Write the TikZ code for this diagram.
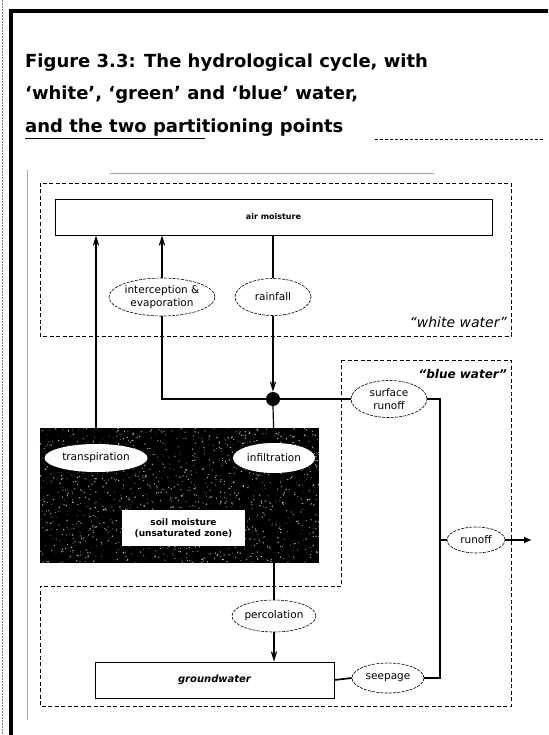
\documentclass[tikz,border=0pt]{standalone}
\usepackage{fontspec}
\setmainfont{DejaVu Sans}
\usetikzlibrary{arrows.meta, shapes.geometric, positioning}

\begin{document}
\begin{tikzpicture}[
            x=1pt, y=-1pt,
            flowLabel/.style={ellipse, draw, fill=white, line width=0.6pt, dash pattern=on 3pt off 1.2pt,
                inner sep=0pt, align=center, font=\fontsize{10.5}{12.5}\selectfont},
            soilLabel/.style={ellipse, fill=white, inner sep=0pt, font=\fontsize{10.5}{12.5}\selectfont},
            store/.style={rectangle, draw, fill=white, line width=0.8pt, inner sep=0pt},
            zone/.style={line width=0.8pt, dash pattern=on 4pt off 2.5pt},
            flow/.style={line width=1.2pt},
            mainFlow/.style={line width=1.7pt},
            flowArrow/.style={flow, -{Straight Barb[length=8pt,width=5pt]}},
            titleText/.style={anchor=base west, inner sep=0pt, font=\bfseries\fontsize{18}{21}\selectfont}
        ]
        \useasboundingbox (0,0) rectangle (548,735);

        % page frame and scan edges
        \draw[gray, line width=0.6pt, dash pattern=on 2pt off 1pt] (2,0) -- (2,735);
        \draw[line width=3.5pt] (11,735) -- (11,11) -- (548,11);
        \draw[gray!70, line width=0.6pt] (27,170) -- (27,720);
        \draw[gray!80, line width=0.6pt] (110,173) -- (434,173);

        \node[titleText] (titleOne) at (25,68) {Figure 3.3: The hydrological cycle, with};
        \node[titleText] (titleTwo) at (25,100) {`white', `green' and `blue' water,};
        \node[titleText] (titleThree) at (25,133) {and the two partitioning points};
        \draw[line width=1pt] (25,139) -- (205,139);
        \draw[line width=0.8pt, densely dashed] (375,139) -- (545,139);

        % zones
        \draw[zone] (40,183) rectangle (511,336);
        \draw[zone] (341,360) -- (511,360) -- (511,706) -- (40,706) -- (40,586) -- (341,586) -- cycle;
        \node[anchor=base east, inner sep=0pt, font=\itshape\fontsize{14}{16}\selectfont] (whiteWater) at (507,327) {``white water''};
        \node[anchor=base east, inner sep=0pt, font=\bfseries\itshape\fontsize{12}{14}\selectfont] (blueWater) at (507,378) {``blue water''};

        % soil zone
        \fill[black] (40,428) rectangle (319,563);
        \pgfmathsetseed{17}
        \foreach \i in {1,...,1400}
            \fill[gray!55] ({40+279*rnd},{428+135*rnd}) circle ({0.3+0.5*rnd});

        \node[store, minimum width=437pt, minimum height=36pt, font=\bfseries\fontsize{8}{10}\selectfont] (airMoisture) at (273.5,217) {air moisture};
        \node[rectangle, fill=white, inner sep=0pt, minimum width=123pt, minimum height=36pt, align=center,
            font=\bfseries\fontsize{9}{11}\selectfont] (soilMoisture) at (183.5,528) {soil moisture\\(unsaturated zone)};
        \node[store, minimum width=239pt, minimum height=36pt, font=\bfseries\itshape\fontsize{10}{12}\selectfont] (groundwater) at (214.5,680) {groundwater};

        \node[flowLabel, minimum width=106pt, minimum height=38pt] (interception) at (162,297) {interception \&\\evaporation};
        \node[flowLabel, minimum width=76pt, minimum height=37pt] (rainfall) at (273,297) {rainfall};
        \node[soilLabel, minimum width=103pt, minimum height=28pt] (transpiration) at (96,458) {transpiration};
        \node[soilLabel, minimum width=82pt, minimum height=30pt] (infiltration) at (274,458) {infiltration};
        \node[flowLabel, minimum width=84pt, minimum height=32pt] (percolation) at (274,616) {percolation};
        \node[flowLabel, minimum width=76pt, minimum height=37pt] (surfaceRunoff) at (389,399) {surface\\runoff};
        \node[flowLabel, minimum width=58pt, minimum height=26pt] (runoff) at (476,540) {runoff};
        \node[flowLabel, minimum width=72pt, minimum height=30pt] (seepage) at (388,678) {seepage};
        \node[circle, fill=black, minimum size=14pt, inner sep=0pt] (junction) at (273,399) {};

        \draw[flowArrow] (transpiration.north) -- (transpiration.north |- airMoisture.south);
        \draw[flowArrow] (interception.north) -- (interception.north |- airMoisture.south);
        \draw[flow] (rainfall.north |- airMoisture.south) -- (rainfall.north);
        \draw[flowArrow] (rainfall.south) -- (junction.north);
        \draw[mainFlow] (interception.south) |- (junction.west);
        \draw[mainFlow] (junction.east) -- (surfaceRunoff.west);
        \draw[flow] (junction.south) -- (infiltration.north);
        \draw[flow] (infiltration.south) -- (percolation.north);
        \draw[flowArrow] (percolation.south) -- (percolation.south |- groundwater.north);
        \draw[mainFlow] (groundwater.east) -- (seepage.west);

        \coordinate (riser) at (440,540);
        \coordinate (outlet) at (532,540);
        \draw[mainFlow] (surfaceRunoff.east) -| (riser) |- (seepage.east);
        \draw[flow] (riser) -- (runoff.west);
        \draw[line width=2pt, -{Latex[length=8pt,width=7pt]}] (runoff.east) -- (outlet);
    \end{tikzpicture}
\end{document}
